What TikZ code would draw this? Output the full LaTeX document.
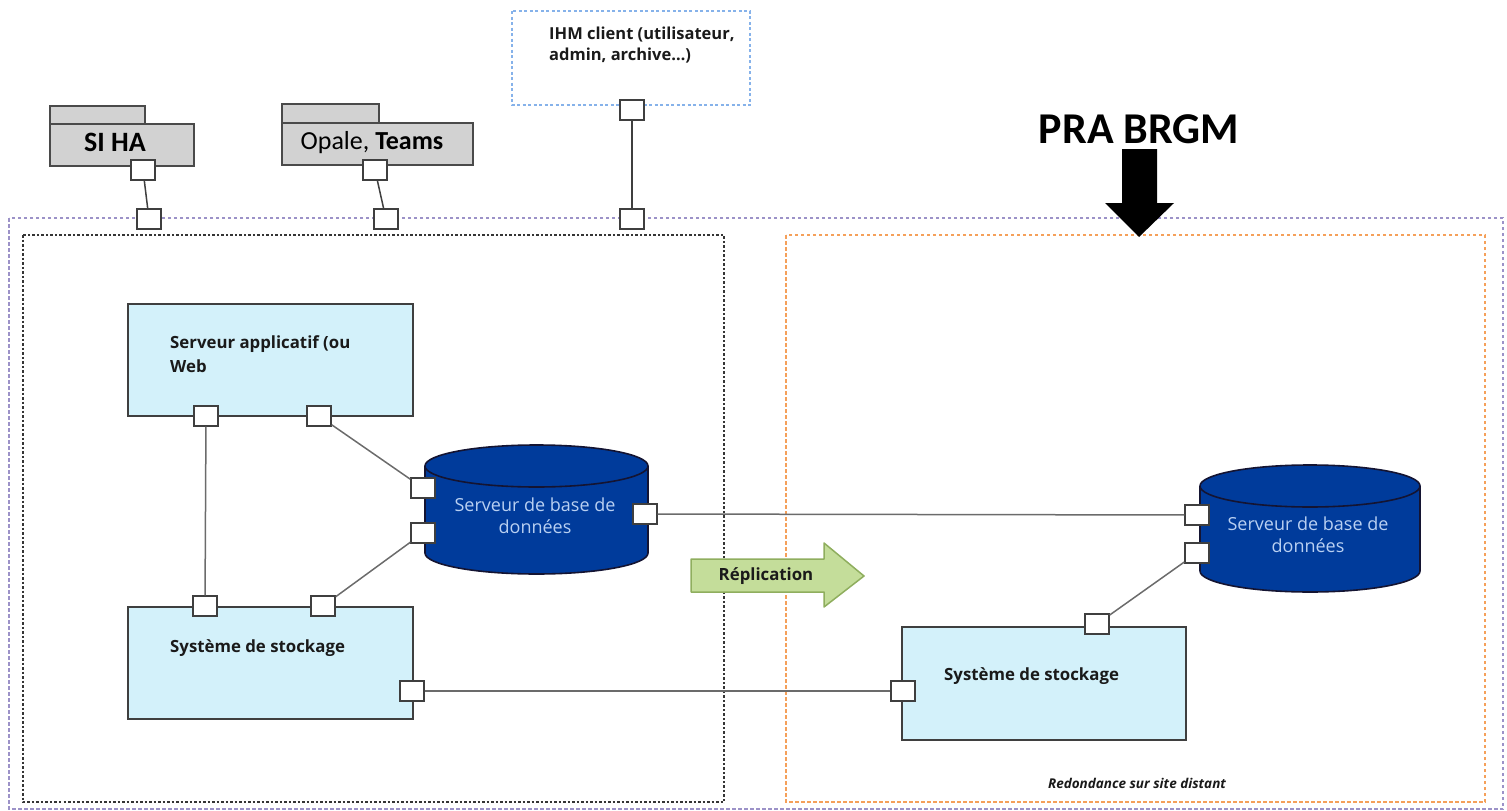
\documentclass[tikz,border=0pt]{standalone}
\usepackage{fontspec}
\setmainfont{Open Sans}
\newfontfamily\calfont{Carlito}

\definecolor{appfill}{HTML}{D3F1FA}
\definecolor{boxline}{HTML}{3F3F3F}
\definecolor{dbfill}{HTML}{003B9B}
\definecolor{dbline}{HTML}{141432}
\definecolor{dbtext}{HTML}{B9D0F2}
\definecolor{pkgfill}{HTML}{D2D2D2}
\definecolor{pkgline}{HTML}{4A4A4A}
\definecolor{replfill}{HTML}{C4DD9A}
\definecolor{replline}{HTML}{8FAE5E}
\definecolor{outerdash}{HTML}{9C92C8}
\definecolor{sitedash}{HTML}{F5A05A}
\definecolor{localdash}{HTML}{353535}
\definecolor{ihmdash}{HTML}{86B2EA}
\definecolor{connline}{HTML}{6B6B6B}
\definecolor{txtdark}{HTML}{1A1A1A}

% database cylinder: #1 centre x, #2 top ellipse centre y, #3 bottom ellipse centre y, #4 x radius, #5 y radius
\newcommand\dbcylinder[5]{%
  \fill[dbfill] (#1,#3) ellipse [x radius=#4, y radius=#5];
  \fill[dbfill] (#1-#4,#2) rectangle (#1+#4,#3);
  \begin{scope}
    \clip (#1-#4-5,#3) rectangle (#1+#4+5,#3+#5+5);
    \draw[dbedge] (#1,#3) ellipse [x radius=#4, y radius=#5];
  \end{scope}
  \draw[dbedge] (#1-#4,#2) -- (#1-#4,#3) (#1+#4,#2) -- (#1+#4,#3);
  \draw[dbedge, fill=dbfill] (#1,#2) ellipse [x radius=#4, y radius=#5];
}

\begin{document}
\begin{tikzpicture}[x=1pt, y=-1pt,
  appbox/.style={draw=boxline, fill=appfill, line width=1.8pt, inner sep=0pt},
  boxtext/.style={font=\fontsize{16.8}{24}\selectfont\bfseries, text=txtdark, inner sep=0pt, align=left},
  dbedge/.style={draw=dbline, line width=1.6pt},
  dbtxt/.style={font=\fontsize{18}{22}\selectfont, text=dbtext, inner sep=0pt, align=center},
  port/.style={draw=boxline, fill=white, line width=1.4pt, minimum width=24pt, minimum height=20pt, inner sep=0pt},
  conn/.style={draw=connline, line width=1.5pt},
  pkgtab/.style={draw=pkgline, fill=pkgfill, line width=1.5pt},
  pkgbody/.style={draw=pkgline, fill=pkgfill, line width=1.5pt, inner sep=0pt},
  pkgtext/.style={font=\calfont\fontsize{26}{30}\selectfont, inner sep=0pt, text=black},
  zone/.style={line width=2.2pt},
]
\useasboundingbox (0,0) rectangle (1507,811);

% dashed zones
\draw[zone, draw=outerdash, dash pattern=on 3.5pt off 2.5pt] (9,218) rectangle (1503,809);
\draw[zone, draw=localdash, dash pattern=on 2.5pt off 2pt] (23,235) rectangle (724,802);
\draw[zone, draw=sitedash, dash pattern=on 3.5pt off 2.5pt] (786,235) rectangle (1485,802);
\draw[line width=1.8pt, draw=ihmdash, dash pattern=on 3pt off 2.5pt] (512,11) rectangle (750,105);

% client interface
\node[boxtext, font=\fontsize{16.5}{21}\selectfont\bfseries, anchor=north west] (ihm) at (549,27)
  {IHM client (utilisateur,\\admin, archive…)};

% packages
\draw[pkgtab] (50,106) rectangle (145,124);
\node[pkgbody, minimum width=144pt, minimum height=42pt] (siha) at (122,145) {};
\node[pkgtext, font=\calfont\fontsize{28}{30}\selectfont, anchor=base] (sihalabel) at (115,151.5) {\bfseries SI HA};
\draw[pkgtab] (282,104) rectangle (379,123);
\node[pkgbody, minimum width=191pt, minimum height=42pt] (opale) at (377.5,144) {};
\node[pkgtext, anchor=base] (opalelabel) at (372,149) {Opale, \textbf{Teams}};

% PRA title and arrow
\node[font=\calfont\fontsize{44}{50}\selectfont\bfseries, inner sep=0pt, anchor=base] (pra) at (1139,143) {PRA BRGM};
\fill[black] (1122,149) -- (1157,149) -- (1157,203) -- (1174,203) -- (1139,237)
  -- (1105,203) -- (1122,203) -- cycle;

% application server and storage boxes
\node[appbox, minimum width=285pt, minimum height=112pt] (app) at (270.5,360) {};
\node[boxtext, anchor=north west] (applabel) at (170,335) {Serveur applicatif (ou\\Web};
\node[appbox, minimum width=285pt, minimum height=112pt] (stor) at (270.5,663) {};
\node[boxtext, anchor=base west] (storlabel) at (170,652) {Système de stockage};
\node[appbox, minimum width=284pt, minimum height=113pt] (storb) at (1044,683.5) {};
\node[boxtext, anchor=base west] (storblabel) at (944,680) {Système de stockage};

% database servers
\dbcylinder{536.5}{466}{553}{111.5}{21}
\node[dbtxt] (db) at (535,516) {Serveur de base de\\données};
\dbcylinder{1310}{486}{571}{110}{21}
\node[dbtxt] (dbb) at (1308,535) {Serveur de base de\\données};

% replication arrow
\draw[draw=replline, fill=replfill, line width=1.5pt, line join=round]
  (691,559) -- (824,559) -- (824,543) -- (864,576) -- (824,607) -- (824,592) -- (691,592) -- cycle;
\node[boxtext] (repl) at (766,576.5) {Réplication};

\node[font=\fontsize{13.5}{15}\selectfont\bfseries\itshape, text=txtdark, inner sep=0pt, anchor=base] (redond) at (1137,788)
  {Redondance sur site distant};

% ports
\path (206,416) node[port] (pA1) {} (319,416) node[port] (pA2) {}
      (205,606) node[port] (pS1) {} (323,606) node[port] (pS2) {} (412,691) node[port] (pS3) {}
      (423,488) node[port] (pD1) {} (423,533) node[port] (pD2) {} (645,514) node[port] (pD3) {}
      (1197,515) node[port] (pR1) {} (1197,553) node[port] (pR2) {}
      (903,691) node[port] (pT1) {} (1097,624) node[port] (pT2) {}
      (143,170) node[port] (pK) {} (375,170) node[port] (pO) {} (632,110) node[port] (pI) {}
      (149,219) node[port] (qK) {} (386,219) node[port] (qO) {} (632,219) node[port] (qI) {};

% connectors
\draw[conn] (pA1) -- (pS1);
\draw[conn] (pA2) -- (pD1);
\draw[conn] (pS2) -- (pD2);
\draw[conn] (pD3) -- (pR1);
\draw[conn] (pS3) -- (pT1);
\draw[conn] (pT2) -- (pR2);
\draw[conn, draw=boxline] (pK) -- (qK);
\draw[conn, draw=boxline] (pO) -- (qO);
\draw[conn, draw=boxline] (pI) -- (qI);
\end{tikzpicture}
\end{document}
